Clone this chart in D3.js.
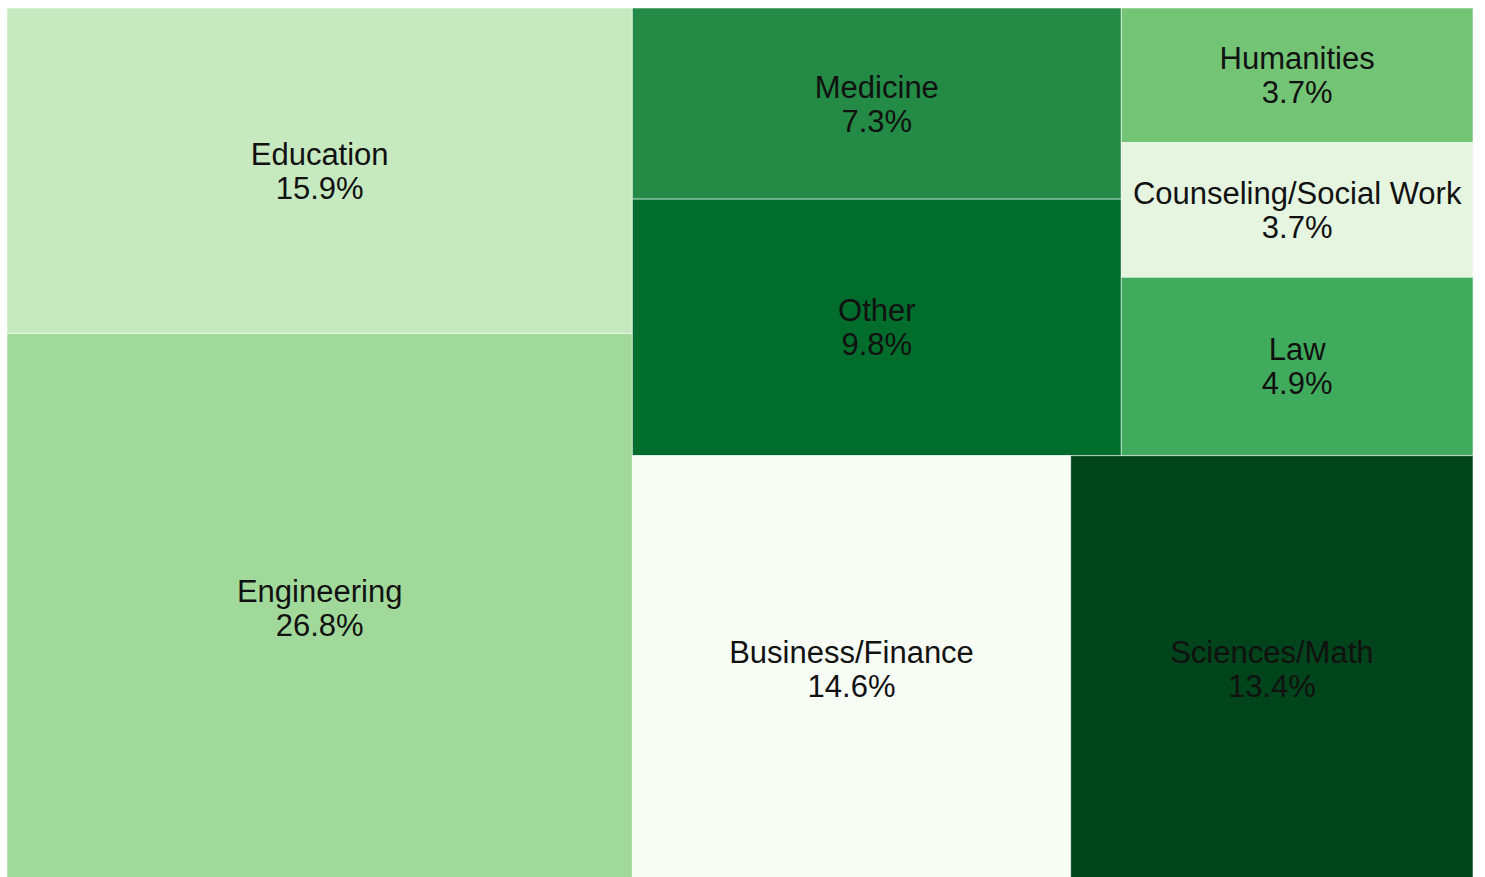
<!DOCTYPE html>
<html>
<head>
<meta charset="utf-8">
<script src="https://cdn.jsdelivr.net/npm/d3@7.9.0/dist/d3.min.js"></script>
<style>
  html, body { margin: 0; padding: 0; background: #fff; overflow: hidden; }
  svg { display: block; }
  text { font-family: "Liberation Sans", Arial, sans-serif; }
</style>
</head>
<body>
<svg id="chart" width="1485" height="877"></svg>
<script>
// fields of study and their share (%)
const fields = ['Engineering', 'Education', 'Business/Finance', 'Sciences/Math', 'Other',
  'Medicine', 'Law', 'Humanities', 'Counseling/Social Work'];
const shares = [26.8, 15.9, 14.6, 13.4, 9.8, 7.3, 4.9, 3.7, 3.7];

// how the blocks are grouped (matches the original layout)
const leftGroup = ['Education', 'Engineering'];
const midColumn = ['Medicine', 'Other'];
const rightColumn = ['Humanities', 'Counseling/Social Work', 'Law'];
const bottomRow = ['Business/Finance', 'Sciences/Math'];

const shareOf = new Map(fields.map((f, i) => [f, shares[i]]));
const leaf = (name) => ({ name, value: shareOf.get(name) });

const tree = {
  name: 'root',
  children: [
    { name: 'left', children: leftGroup.map(leaf) },
    { name: 'right', children: [
      { name: 'top', children: [
        { name: 'mid', children: midColumn.map(leaf) },
        { name: 'side', children: rightColumn.map(leaf) },
      ] },
      { name: 'bottom', children: bottomRow.map(leaf) },
    ] },
  ],
};

const svg = d3.select('#chart');

const root = d3.hierarchy(tree).sum((d) => d.value || 0);

d3.treemap()
  .tile(d3.treemapSliceDice)
  .size([1466, 874])
  (root);

// colour by name, alphabetical, brewer greens
const color = d3.scaleOrdinal()
  .domain(fields.slice().sort())
  .range(d3.schemeGreens[9]);

const g = svg.append('g').attr('transform', 'translate(7,8)');

const cells = g.selectAll('g.cell')
  .data(root.leaves())
  .join('g')
  .attr('class', 'cell');

cells.append('rect')
  .attr('x', (d) => d.x0)
  .attr('y', (d) => d.y0)
  .attr('width', (d) => d.x1 - d.x0)
  .attr('height', (d) => d.y1 - d.y0)
  .attr('fill', (d) => color(d.data.name))
  .attr('stroke', 'rgba(255,255,255,0.55)')
  .attr('stroke-width', 1);

const labels = cells.append('text')
  .attr('text-anchor', 'middle')
  .attr('font-size', 31)
  .attr('fill', '#111')
  .attr('x', (d) => (d.x0 + d.x1) / 2)
  .attr('y', (d) => (d.y0 + d.y1) / 2);

labels.append('tspan')
  .attr('x', (d) => (d.x0 + d.x1) / 2)
  .attr('dy', -6)
  .text((d) => d.data.name);

labels.append('tspan')
  .attr('x', (d) => (d.x0 + d.x1) / 2)
  .attr('dy', 34)
  .text((d) => d.data.value.toFixed(1) + '%');
</script>
</body>
</html>
